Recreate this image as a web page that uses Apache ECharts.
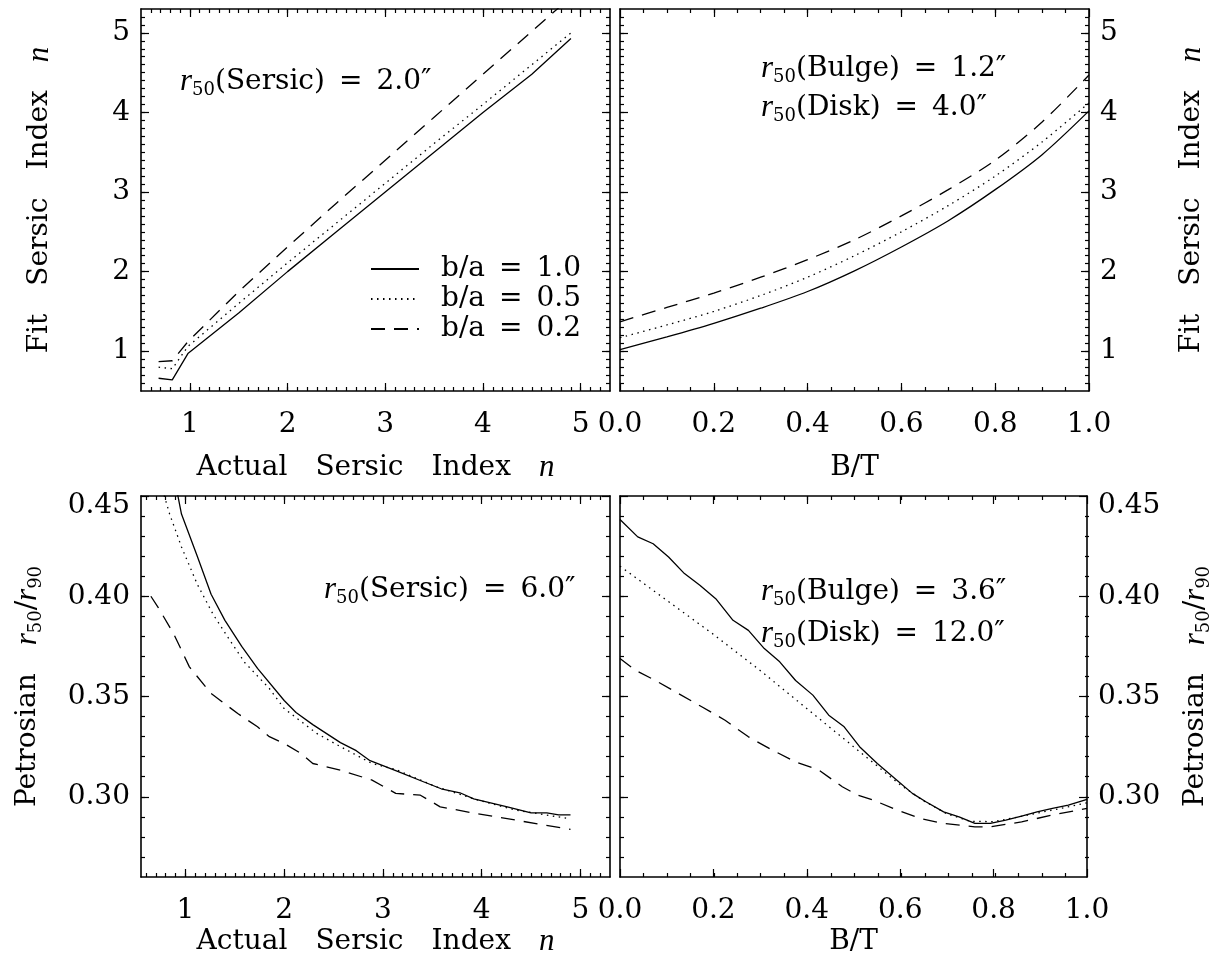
<!DOCTYPE html>
<html>
<head>
<meta charset="utf-8">
<script src="https://cdn.jsdelivr.net/npm/echarts@6/dist/echarts.min.js"></script>
<style>html,body{margin:0;padding:0;background:#fff}#c{width:1214px;height:969px}</style>
</head>
<body>
<div id="c"></div>
<script>
// ---------- data ----------
// Top-left: fit Sersic n vs actual n, r50 = 2.0"
const tlX      = [0.68, 0.82, 0.98, 1.5, 2.0, 2.5, 3.0, 3.5, 4.0, 4.5, 4.9];
const tlSolid  = [0.66, 0.64, 0.97, 1.48, 2.00, 2.50, 3.00, 3.50, 4.00, 4.48, 4.93];
const tlDotted = [0.80, 0.78, 1.06, 1.60, 2.11, 2.61, 3.11, 3.61, 4.10, 4.60, 5.00];
const tlDashed = [0.87, 0.88, 1.12, 1.75, 2.31, 2.86, 3.40, 3.94, 4.48, 5.02, 5.45];

// Top-right: fit Sersic n vs B/T
const trX      = [0, 0.1, 0.2, 0.3, 0.4, 0.5, 0.6, 0.7, 0.8, 0.9, 1.0];
const trSolid  = [1.02, 1.18, 1.35, 1.54, 1.75, 2.01, 2.31, 2.64, 3.03, 3.47, 4.02];
const trDotted = [1.17, 1.33, 1.50, 1.70, 1.93, 2.20, 2.50, 2.83, 3.20, 3.63, 4.12];
const trDashed = [1.37, 1.55, 1.73, 1.93, 2.15, 2.40, 2.70, 3.03, 3.40, 3.88, 4.47];

// Bottom-left: Petrosian r50/r90 vs actual n
const blSolidX  = [0.9, 0.96, 1.12, 1.26, 1.40, 1.57, 1.73, 2.0, 2.12, 2.29, 2.57, 2.73, 2.87, 3.13, 3.41, 3.59, 3.78, 3.92, 4.26, 4.34, 4.5, 4.66, 4.78, 4.9];
const blSolidY  = [0.456, 0.441, 0.420, 0.401, 0.388, 0.375, 0.364, 0.348, 0.342, 0.336, 0.327, 0.323, 0.318, 0.313, 0.3075, 0.304, 0.302, 0.299, 0.295, 0.294, 0.292, 0.292, 0.291, 0.291];
const blDottedX = [0.75, 0.84, 0.96, 1.12, 1.28, 1.45, 1.6, 1.85, 2.0, 2.33, 2.57, 2.89, 3.13, 3.54, 3.94, 4.34, 4.9];
const blDottedY = [0.456, 0.441, 0.4246, 0.406, 0.391, 0.378, 0.367, 0.354, 0.344, 0.3316, 0.325, 0.3166, 0.3136, 0.305, 0.2987, 0.2934, 0.289];
const blDashedX = [0.65, 0.72, 0.88, 1.04, 1.26, 1.53, 1.73, 1.85, 2.0, 2.17, 2.29, 2.57, 2.89, 3.13, 3.38, 3.58, 3.94, 4.34, 4.9];
const blDashedY = [0.400, 0.3947, 0.3814, 0.3648, 0.3515, 0.3415, 0.3349, 0.330, 0.3266, 0.3216, 0.3166, 0.3133, 0.3083, 0.3017, 0.3008, 0.295, 0.2917, 0.2884, 0.2837];

// Bottom-right: Petrosian r50/r90 vs B/T
const brSolidX  = [0, 0.038, 0.071, 0.104, 0.138, 0.171, 0.205, 0.242, 0.275, 0.309, 0.342, 0.376, 0.413, 0.447, 0.48, 0.513, 0.551, 0.593, 0.626, 0.655, 0.693, 0.726, 0.76, 0.793, 0.826, 0.86, 0.893, 0.926, 0.96, 1.0];
const brSolidY  = [0.4383, 0.4296, 0.4262, 0.4196, 0.4113, 0.4055, 0.3988, 0.388, 0.383, 0.3739, 0.3673, 0.358, 0.3507, 0.3407, 0.3349, 0.325, 0.3166, 0.3083, 0.3017, 0.2975, 0.2925, 0.29, 0.2867, 0.2867, 0.2884, 0.2904, 0.2925, 0.2942, 0.2958, 0.2987];
const brDottedX = [0, 0.1, 0.2, 0.3, 0.4, 0.5, 0.6, 0.65, 0.7, 0.75, 0.8, 0.85, 0.9, 0.95, 1.0];
const brDottedY = [0.415, 0.398, 0.381, 0.363, 0.344, 0.325, 0.306, 0.298, 0.2915, 0.2878, 0.2876, 0.2898, 0.2922, 0.2945, 0.297];
const brDashedX = [0, 0.033, 0.075, 0.125, 0.175, 0.225, 0.275, 0.326, 0.376, 0.426, 0.476, 0.509, 0.543, 0.593, 0.643, 0.693, 0.76, 0.793, 0.86, 0.926, 1.0];
const brDashedY = [0.369, 0.3631, 0.3581, 0.3515, 0.3449, 0.3382, 0.3299, 0.3233, 0.3174, 0.3133, 0.305, 0.3008, 0.2983, 0.2934, 0.2892, 0.2867, 0.285, 0.285, 0.2875, 0.2909, 0.2942];

// tick labels
const nMajor   = [1, 2, 3, 4, 5];
const btMajor  = [0, 0.2, 0.4, 0.6, 0.8, 1.0];
const pMajor   = [0.30, 0.35, 0.40, 0.45];
const seriesNames = ['b/a\u2002=\u20021.0', 'b/a\u2002=\u20020.5', 'b/a\u2002=\u20020.2'];

// ---------- helpers ----------
function seq(a, b, step) {
  const out = [];
  const n = Math.round((b - a) / step);
  for (let k = 0; k <= n; k++) out.push(+(a + k * step).toFixed(3));
  return out;
}
const nMinor  = seq(0.6, 5.2, 0.1);
const btMinor = seq(0.05, 0.95, 0.05);
const pMinor  = seq(0.27, 0.44, 0.01);

const FONT = '"DejaVu Serif"';
const RICH = {
  n: { fontFamily: FONT, fontSize: 28, lineHeight: 34, verticalAlign: 'middle', color: '#000' },
  i: { fontFamily: '"Liberation Serif"', fontStyle: 'italic', fontSize: 31, lineHeight: 34, verticalAlign: 'middle', color: '#000' },
  s: { fontFamily: FONT, fontSize: 18, lineHeight: 14, verticalAlign: 'bottom', color: '#000' },
  t: { fontFamily: FONT, fontSize: 28, color: '#000', padding: [20, 0, 0, 0] }
};
const SUB = '{i|r}{s|50}';

const DOT = [1.5, 4.5];
const DASH = [14, 9];

const panels = [
  { rect: { left: 141, top: 9, width: 469, height: 382 },
    x: { min: 0.5, max: 5.3, major: nMajor, minor: nMinor, fmt: v => String(v) },
    y: { min: 0.5, max: 5.3, major: nMajor, minor: nMinor, fmt: v => String(v), side: 'left' },
    xName: '{n|Actual\u2003Sersic\u2003Index\u2003}{i|n}', xGap: 60,
    yName: '{n|Fit\u2003Sersic\u2003Index\u2003}{i|n}', yGap: 84 },
  { rect: { left: 620, top: 9, width: 469, height: 382 },
    x: { min: 0, max: 1, major: btMajor, minor: btMinor, fmt: v => v.toFixed(1) },
    y: { min: 0.5, max: 5.3, major: nMajor, minor: nMinor, fmt: v => String(v), side: 'right' },
    xName: '{n|B/T}', xGap: 60,
    yName: '{n|Fit\u2003Sersic\u2003Index\u2003}{i|n}', yGap: 86 },
  { rect: { left: 141, top: 496, width: 469, height: 381 },
    x: { min: 0.55, max: 5.3, major: nMajor, minor: nMinor, fmt: v => String(v) },
    y: { min: 0.26, max: 0.45, major: pMajor, minor: pMinor, fmt: v => (v >= 0.449 ? '{t|' + v.toFixed(2) + '}' : v.toFixed(2)), side: 'left' },
    xName: '{n|Actual\u2003Sersic\u2003Index\u2003}{i|n}', xGap: 48,
    yName: '{n|Petrosian\u2003}' + SUB + '{n|/}{i|r}{s|90}', yGap: 96 },
  { rect: { left: 620, top: 496, width: 469, height: 381 },
    x: { min: 0, max: 1, major: btMajor, minor: btMinor, fmt: v => v.toFixed(1) },
    y: { min: 0.26, max: 0.45, major: pMajor, minor: pMinor, fmt: v => (v >= 0.449 ? '{t|' + v.toFixed(2) + '}' : v.toFixed(2)), side: 'right' },
    xName: '{n|B/T}', xGap: 48,
    yName: '{n|Petrosian\u2003}' + SUB + '{n|/}{i|r}{s|90}', yGap: 92 }
];

const grids = [], xAxes = [], yAxes = [];
panels.forEach(p => grids.push(Object.assign({ containLabel: false }, p.rect)));
panels.forEach(p => grids.push(Object.assign({ containLabel: false }, p.rect)));

function axis(dim, gridIndex, position, spec, kind, showLabel, name, gap) {
  const major = kind === 'major';
  const a = {
    type: 'value', gridIndex, position, min: spec.min, max: spec.max,
    splitLine: { show: false },
    axisLine: { show: major, onZero: false, lineStyle: { color: '#000', width: 1.6 } },
    axisTick: { show: true, inside: true, length: major ? 8 : 4,
      customValues: major ? spec.major : spec.minor,
      lineStyle: { color: '#000', width: 1.2 } },
    axisLabel: { show: showLabel, customValues: spec.major, formatter: spec.fmt,
      fontFamily: FONT, fontSize: 28, color: '#000', margin: dim === 'x' ? 20 : 11, rich: RICH },
    silent: true
  };
  if (name) {
    a.name = name; a.nameLocation = 'middle'; a.nameGap = gap;
    if (dim === 'y') a.nameRotate = 90;
    a.nameTextStyle = { rich: RICH, fontFamily: FONT, fontSize: 28, color: '#000' };
  }
  return a;
}

panels.forEach((p, k) => {
  xAxes.push(axis('x', k, 'bottom', p.x, 'major', true, p.xName, p.xGap));
  xAxes.push(axis('x', k, 'top', p.x, 'major', false));
  xAxes.push(axis('x', k + 4, 'bottom', p.x, 'minor', false));
  xAxes.push(axis('x', k + 4, 'top', p.x, 'minor', false));
  const labL = p.y.side === 'left';
  yAxes.push(axis('y', k, 'left', p.y, 'major', labL, labL ? p.yName : null, p.yGap));
  yAxes.push(axis('y', k, 'right', p.y, 'major', !labL, labL ? null : p.yName, p.yGap));
  yAxes.push(axis('y', k + 4, 'left', p.y, 'minor', false));
  yAxes.push(axis('y', k + 4, 'right', p.y, 'minor', false));
});

const styles = ['solid', DOT, DASH];
function ser(k, idx, xs, ys, smooth) {
  return {
    type: 'line', name: seriesNames[idx], xAxisIndex: 4 * k, yAxisIndex: 4 * k,
    data: xs.map((x, i) => [x, ys[i]]), symbol: 'none', showSymbol: false,
    smooth: smooth ? 0.3 : false, clip: true, silent: true, animation: false,
    lineStyle: { color: '#000', width: 1.3, type: styles[idx], cap: 'butt' },
    itemStyle: { color: '#000' }, z: 3
  };
}
const series = [
  ser(0, 0, tlX, tlSolid), ser(0, 1, tlX, tlDotted), ser(0, 2, tlX, tlDashed),
  ser(1, 0, trX, trSolid, true), ser(1, 1, trX, trDotted, true), ser(1, 2, trX, trDashed, true),
  ser(2, 0, blSolidX, blSolidY), ser(2, 1, blDottedX, blDottedY), ser(2, 2, blDashedX, blDashedY),
  ser(3, 0, brSolidX, brSolidY), ser(3, 1, brDottedX, brDottedY), ser(3, 2, brDashedX, brDashedY)
];

function note(x, y, text) {
  return { type: 'text', x, y, silent: true,
    style: { text, rich: RICH, fontFamily: FONT, fontSize: 28, fill: '#000', align: 'left', verticalAlign: 'middle' } };
}

const option = {
  backgroundColor: '#fff',
  animation: false,
  grid: grids, xAxis: xAxes, yAxis: yAxes, series,
  legend: {
    data: seriesNames, orient: 'vertical', left: 365, top: 250,
    itemWidth: 48, itemHeight: 14, itemGap: 2, selectedMode: false,
    itemStyle: { opacity: 0 },
    textStyle: { fontFamily: FONT, fontSize: 28, color: '#000', padding: [0, 0, 0, 17] }
  },
  graphic: [
    note(180, 82, SUB + '{n|(Sersic)\u2002=\u20022.0\u2033}'),
    note(761, 69, SUB + '{n|(Bulge)\u2002=\u20021.2\u2033}'),
    note(761, 108, SUB + '{n|(Disk)\u2002=\u20024.0\u2033}'),
    note(324, 590, SUB + '{n|(Sersic)\u2002=\u20026.0\u2033}'),
    note(761, 592, SUB + '{n|(Bulge)\u2002=\u20023.6\u2033}'),
    note(761, 634, SUB + '{n|(Disk)\u2002=\u200212.0\u2033}')
  ]
};

const chart = echarts.init(document.getElementById('c'), null, { renderer: 'canvas' });
chart.setOption(option);
</script>
</body>
</html>
